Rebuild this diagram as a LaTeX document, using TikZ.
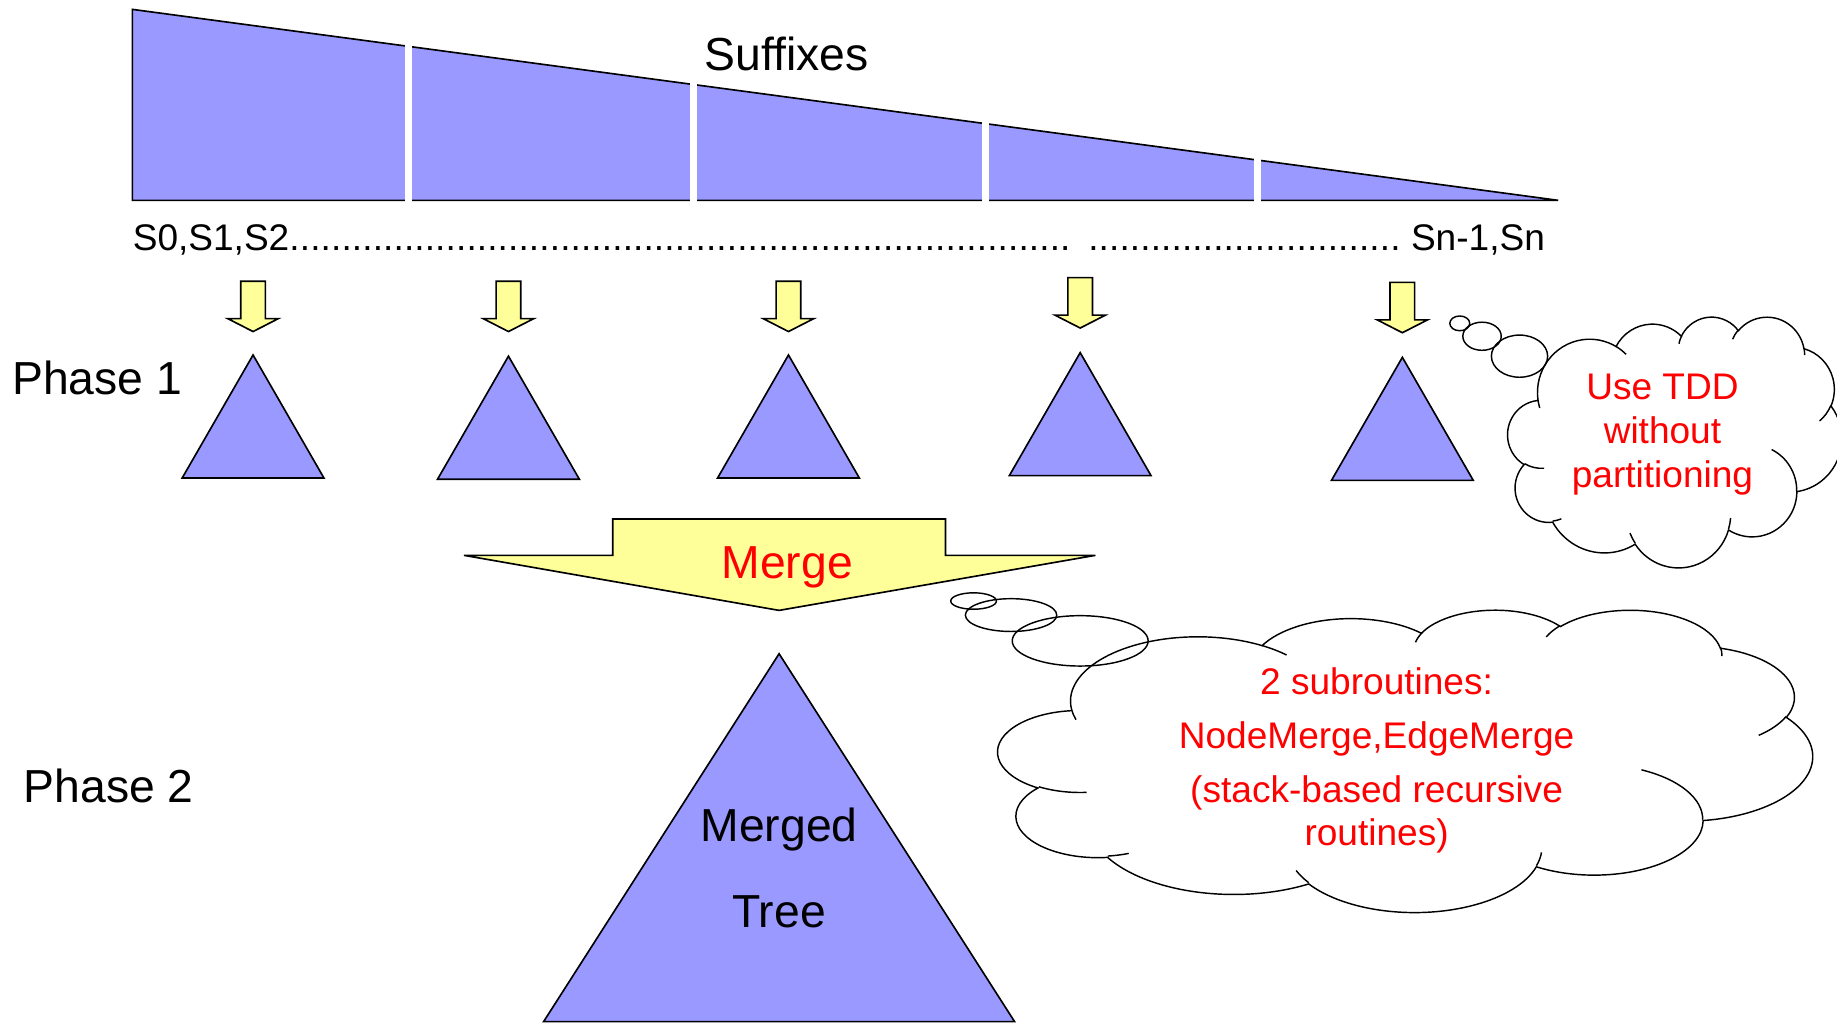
\documentclass[tikz,border=0pt]{standalone}
\usepackage{fontspec}
\setmainfont{Liberation Sans}
\usepackage{tikz}

\definecolor{partblue}{HTML}{9999FF}
\definecolor{noteyellow}{HTML}{FFFF99}

\tikzset{
  part/.style={fill=partblue, draw=black, line width=0.8pt},
  yarrow/.style={fill=noteyellow, draw=black, line width=0.8pt},
  cloudline/.style={draw=black, line width=0.7pt},
  bigtext/.style={font=\fontsize{22.5}{27}\selectfont, inner sep=0pt},
  smalltext/.style={font=\fontsize{18}{21.6}\selectfont, inner sep=0pt},
}

% arcs of the cloud outline: radii and (visual) angles as in a 432x432 box
\newcommand\ooangles[4]{%
  \pgfmathsetmacro\ooS{atan2(#1*sin(#3),#2*cos(#3))}%
  \pgfmathsetmacro\ooE{atan2(#1*sin(#3+#4),#2*cos(#3+#4))}%
  \pgfmathsetmacro\ooE{\ooE+360*round((#4-(\ooE)+(\ooS))/360)}%
  \global\let\arcS\ooS \global\let\arcE\ooE}
\newcommand\ooarc[4]{\pgfextra{\ooangles{#1}{#2}{#3}{#4}}
  arc[start angle=\arcS, end angle=\arcE, x radius=#1, y radius=#2]}

% left, top, width, height
\newcommand\thoughtcloud[4]{%
  \begin{scope}[shift={(#1,#2)}, x={(#3*0.02cm/432,0)}, y={(0,-#4*0.02cm/432)}]
    \draw[cloudline] (39,143.7)
      \ooarc{67.53}{91.90}{-190.4875}{123.7805}
      \ooarc{53.33}{72.67}{-144.1024}{89.9452}
      \ooarc{43.65}{59.45}{-145.8079}{99.7230}
      \ooarc{48.57}{65.95}{-130.9861}{117.2417}
      \ooarc{53.33}{72.73}{-78.7089}{109.0269}
      \ooarc{67.75}{92.20}{-46.2673}{130.2690}
      \ooarc{57.85}{78.67}{0.6250}{114.0333}
      \ooarc{67.52}{92.15}{22.4516}{115.1726}
      \ooarc{77.20}{105.43}{66.2426}{75.7110}
      \ooarc{43.60}{59.18}{-274.9421}{146.7356}
      \ooarc{43.45}{59.45}{-246.8285}{152.5189}
      -- cycle;
    \draw[cloudline]
      (46.93,261.77) \ooarc{43.45}{59.45}{86.742}{26.4295}
      (69.28,348.99) \ooarc{43.60}{59.18}{73.6105}{11.4475}
      (164.78,390.90) \ooarc{67.52}{92.15}{137.6242}{14.0811}
      (288.27,347.51) \ooarc{67.52}{92.15}{6.4533}{15.9984}
      (341.29,229.54) \ooarc{57.85}{78.67}{-70.2924}{70.9174}
      (417.98,153.54) \ooarc{53.33}{72.73}{30.3180}{27.7515}
      (383.24,54.26) \ooarc{48.57}{65.95}{-13.7443}{14.8589}
      (290.78,39.52) \ooarc{48.57}{65.95}{-149.1815}{18.1954}
      (221.41,47.20) \ooarc{43.65}{59.45}{-163.4943}{17.6864}
      (140.00,51.92) \ooarc{67.53}{91.90}{-66.7070}{12.3194}
      (41.27,157.89) \ooarc{67.53}{91.90}{157.6544}{11.8582};
  \end{scope}}

\begin{document}
\begin{tikzpicture}[x=0.02cm, y=-0.02cm]
  \useasboundingbox (0,0) rectangle (1568,873);

  % suffixes, cut into five parts
  \draw[part] (113,8) -- (1330,171) -- (113,171) -- cycle;
  \foreach \x in {349,592,841,1073}
    \fill[white] (\x-3,{8+(\x-113)/1217*163-3}) rectangle (\x+3,174);
  \node[bigtext, anchor=base west] (suffixes) at (601,60) {Suffixes};
  \node[smalltext, anchor=base west] (range) at (113,214)
    {\hbox to 24.1cm{S0,S1,S2\xleaders\hbox{.}\hskip 0pt plus 2.5fill\hskip 0.3cm\xleaders\hbox{.}\hskip 0pt plus 1fill\ Sn-1,Sn}};

  % phase 1: one tree per part
  \foreach \x/\y in {216/240,434/240,673/240,922/237,1197/241}
    \draw[yarrow] (\x-10.5,\y) -- (\x+10.5,\y) -- (\x+10.5,\y+32) -- (\x+21.5,\y+32)
      -- (\x,\y+43) -- (\x-21.5,\y+32) -- (\x-10.5,\y+32) -- cycle;
  \foreach \x/\y in {216/303,434/304,673/303,922/301,1197/305}
    \draw[part] (\x,\y) -- (\x+60.5,\y+105) -- (\x-60.5,\y+105) -- cycle;
  \node[bigtext, anchor=base west] (phase1) at (10,337) {Phase 1};

  % phase 2: merge
  \draw[yarrow] (396,474) -- (523,474) -- (523,443) -- (807,443) -- (807,474)
    -- (935,474) -- (665,521) -- cycle;
  \node[bigtext, text=red, anchor=base] (merge) at (672,493.5) {Merge};
  \draw[part] (665,558) -- (866,872) -- (464,872) -- cycle;
  \node[bigtext, font=\fontsize{22.5}{42}\selectfont, align=center] (tree) at (665,741) {Merged\\Tree};
  \node[bigtext, anchor=base west] (phase2) at (20,685) {Phase 2};

  % notes
  \thoughtcloud{1287}{270}{285}{214}
  \draw[cloudline] (1246,276) ellipse[x radius=8.5, y radius=6.3];
  \draw[cloudline] (1265,287) ellipse[x radius=16.4, y radius=12];
  \draw[cloudline] (1297,304) ellipse[x radius=24, y radius=18];
  \node[smalltext, text=red, align=center, font=\fontsize{18}{21.2}\selectfont] (tdd) at (1419,371) {Use TDD\\without\\partitioning};

  \thoughtcloud{852}{520}{695}{258}
  \draw[cloudline] (831,513) ellipse[x radius=19.5, y radius=7];
  \draw[cloudline] (863,525) ellipse[x radius=39, y radius=14];
  \draw[cloudline] (922,547) ellipse[x radius=58, y radius=21.5];
  \node[smalltext, text=red, align=center, font=\fontsize{18}{26.2}\selectfont] (subs) at (1175,649)
    {2 subroutines:\\NodeMerge,EdgeMerge\\(stack-based recursive\\[-5pt]routines)};
\end{tikzpicture}
\end{document}
